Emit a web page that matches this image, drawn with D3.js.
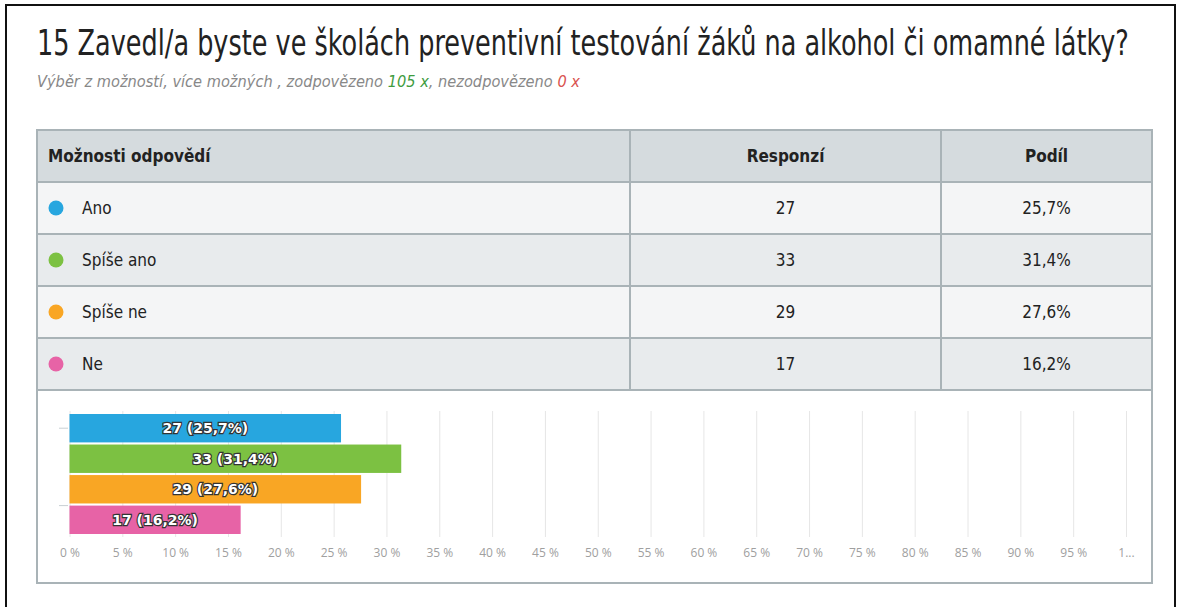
<!DOCTYPE html>
<html>
<head>
<meta charset="utf-8">
<script src="https://cdnjs.cloudflare.com/ajax/libs/d3/7.8.5/d3.min.js"></script>
<style>
  body { margin: 0; background: #fff; }
  .narrow { font-family: "Liberation Sans Narrow", "DejaVu Sans Condensed", "Roboto Condensed", "Open Sans", sans-serif; font-stretch: condensed; }
</style>
</head>
<body>
<svg id="chart" width="1181" height="607"></svg>
<script>
// data
const categories = ["Ano", "Spíše ano", "Spíše ne", "Ne"];
const responses = [27, 33, 29, 17];
const shares = [25.7, 31.4, 27.6, 16.2];
const colors = ["#27a6df", "#7cc142", "#f9a624", "#e763a6"];
const tickValues = d3.range(0, 101, 5);

const titleText = "15 Zavedl/a byste ve školách preventivní testování žáků na alkohol či omamné látky?";
const answered = 105, unanswered = 0;

const fmt = v => v.toFixed(1).replace(".", ",");

const svg = d3.select("#chart");

// squeeze a text horizontally (narrow font look) so it spans the wanted width
function squeeze(sel, x0, y0, target) {
  const w = sel.node().getComputedTextLength();
  sel.attr("transform", `translate(${x0},${y0}) scale(${target / w},1)`);
}

// outer frame
svg.append("rect")
  .attr("x", 6).attr("y", 5).attr("width", 1169).attr("height", 620)
  .attr("fill", "#fff").attr("stroke", "#111").attr("stroke-width", 2);

// title + subtitle
const title = svg.append("text")
  .attr("class", "narrow")
  .attr("x", 0).attr("y", 0)
  .style("font-size", "36px").attr("fill", "#222")
  .text(titleText);
squeeze(title, 37, 55, 1092);

const sub = svg.append("text")
  .attr("class", "narrow")
  .attr("x", 0).attr("y", 0)
  .style("font-size", "16.5px").style("font-style", "italic").attr("fill", "#888");
sub.append("tspan").text("Výběr z možností, více možných , zodpovězeno ");
sub.append("tspan").attr("fill", "#3f9c3f").text(answered + " x");
sub.append("tspan").text(", nezodpovězeno ");
sub.append("tspan").attr("fill", "#d9534f").text(unanswered + " x");
squeeze(sub, 37, 87, 543);

// table layout
const tLeft = 37, tRight = 1152, col1 = 630, col2 = 941;
const tTop = 130, headH = 52, rowH = 52, chartBottom = 583;
const rowY = d3.scaleBand().domain(categories).range([tTop + headH, tTop + headH + rowH * categories.length]);
const chartTop = tTop + headH + rowH * categories.length;

const table = svg.append("g");

table.append("rect")
  .attr("x", tLeft).attr("y", tTop).attr("width", tRight - tLeft).attr("height", headH)
  .attr("fill", "#d5dbde");

table.selectAll(".rowbg")
  .data(categories)
  .enter().append("rect")
  .attr("class", "rowbg")
  .attr("x", tLeft).attr("y", d => rowY(d))
  .attr("width", tRight - tLeft).attr("height", rowY.bandwidth())
  .attr("fill", (d, i) => i % 2 === 0 ? "#f4f5f6" : "#e8ebed");

table.append("rect")
  .attr("x", tLeft).attr("y", chartTop).attr("width", tRight - tLeft).attr("height", chartBottom - chartTop)
  .attr("fill", "#fff");

// horizontal lines
const hLines = [tTop + headH].concat(categories.map(d => rowY(d) + rowY.bandwidth()));
table.selectAll(".hline")
  .data(hLines)
  .enter().append("line")
  .attr("x1", tLeft).attr("x2", tRight)
  .attr("y1", d => d).attr("y2", d => d)
  .attr("stroke", "#a9b3b7").attr("stroke-width", 2);

// vertical column lines
[col1, col2].forEach(x => {
  table.append("line")
    .attr("x1", x).attr("x2", x).attr("y1", tTop).attr("y2", chartTop)
    .attr("stroke", "#a9b3b7").attr("stroke-width", 2);
});

table.append("rect")
  .attr("x", tLeft).attr("y", tTop).attr("width", tRight - tLeft).attr("height", chartBottom - tTop)
  .attr("fill", "none").attr("stroke", "#a9b3b7").attr("stroke-width", 2);

// header
const headBase = tTop + headH / 2 + 6;
table.append("text").attr("class", "narrow")
  .attr("x", 48).attr("y", headBase)
  .style("font-size", "17px").style("font-weight", "bold").attr("fill", "#222")
  .text("Možnosti odpovědí");
table.append("text").attr("class", "narrow")
  .attr("x", (col1 + col2) / 2).attr("y", headBase).attr("text-anchor", "middle")
  .style("font-size", "17px").style("font-weight", "bold").attr("fill", "#222")
  .text("Responzí");
table.append("text").attr("class", "narrow")
  .attr("x", (col2 + tRight) / 2).attr("y", headBase).attr("text-anchor", "middle")
  .style("font-size", "17px").style("font-weight", "bold").attr("fill", "#222")
  .text("Podíl");

// rows
const rows = table.selectAll(".row")
  .data(categories)
  .enter().append("g")
  .attr("transform", d => `translate(0,${rowY(d) + rowY.bandwidth() / 2})`);

rows.append("circle")
  .attr("cx", 56).attr("cy", 0).attr("r", 7.5)
  .attr("fill", (d, i) => colors[i]);

rows.append("text").attr("class", "narrow")
  .attr("x", 82).attr("y", 6)
  .style("font-size", "17px").attr("fill", "#222")
  .text(d => d);

rows.append("text").attr("class", "narrow")
  .attr("x", (col1 + col2) / 2).attr("y", 6).attr("text-anchor", "middle")
  .style("font-size", "17px").attr("fill", "#222")
  .text((d, i) => responses[i]);

rows.append("text").attr("class", "narrow")
  .attr("x", (col2 + tRight) / 2).attr("y", 6).attr("text-anchor", "middle")
  .style("font-size", "17px").attr("fill", "#222")
  .text((d, i) => fmt(shares[i]) + "%");

// bar chart
const x = d3.scaleLinear().domain([0, 100]).range([69.5, 1126]);
const y = d3.scaleBand().domain(categories).range([414, 534]).paddingInner(0.07);
const gridTop = 411, gridBottom = 537;

const xAxis = svg.append("g")
  .attr("transform", `translate(0,${gridBottom})`)
  .call(d3.axisBottom(x)
    .tickValues(tickValues)
    .tickSize(-(gridBottom - gridTop))
    .tickPadding(11)
    .tickFormat(d => d === 100 ? "1..." : d + " %"));
xAxis.select(".domain").remove();
xAxis.selectAll(".tick line").attr("stroke", "#e6e6e6");
xAxis.selectAll(".tick text")
  .attr("fill", "#a0a0a0")
  .style("font-family", "'Open Sans', 'DejaVu Sans', sans-serif")
  .style("font-size", "12px");

// small category ticks on the left
const catTicks = [y(categories[0]) + y.bandwidth() / 2, y(categories[3])];
svg.selectAll(".ctick")
  .data(catTicks)
  .enter().append("line")
  .attr("x1", 59).attr("x2", 68)
  .attr("y1", d => d).attr("y2", d => d)
  .attr("stroke", "#c8d0d4");

svg.selectAll(".bar")
  .data(categories)
  .enter().append("rect")
  .attr("class", "bar")
  .attr("x", x(0))
  .attr("y", d => y(d))
  .attr("width", (d, i) => x(shares[i]) - x(0))
  .attr("height", y.bandwidth())
  .attr("fill", (d, i) => colors[i]);

svg.selectAll(".barlabel")
  .data(categories)
  .enter().append("text")
  .attr("x", (d, i) => (x(0) + x(shares[i])) / 2)
  .attr("y", d => y(d) + y.bandwidth() / 2 + 5)
  .attr("text-anchor", "middle")
  .style("font-family", "'DejaVu Sans', sans-serif")
  .style("font-size", "14px").style("font-weight", "bold")
  .attr("fill", "#fff").attr("stroke", "#333").attr("stroke-width", 2.4)
  .attr("paint-order", "stroke")
  .text((d, i) => `${responses[i]} (${fmt(shares[i])}%)`);
</script>
</body>
</html>
